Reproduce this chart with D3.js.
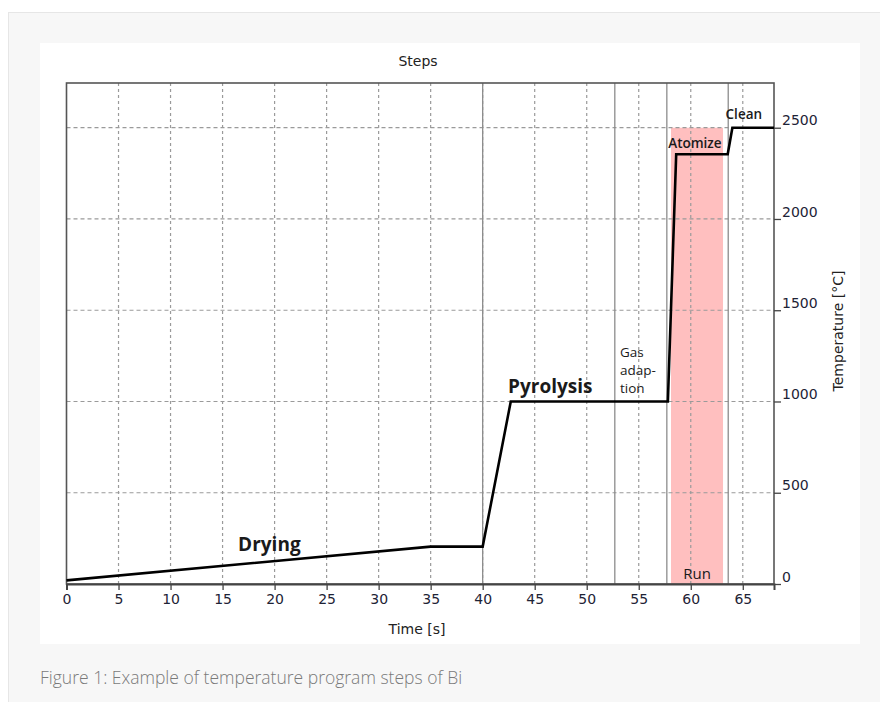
<!DOCTYPE html>
<meta charset="utf-8">
<style>
  body { margin: 0; background: #fff; }
</style>
<body>
<script src="https://cdn.jsdelivr.net/npm/d3@7"></script>
<script>
// temperature program (time in s, temperature in °C)
var times = [0, 35, 40, 42.7, 57.8, 58.6, 63.55, 64.0, 68];
var temps = [20, 205, 205, 1000, 1000, 2355, 2355, 2500, 2500];

// step boundaries and run window
var stepLines = [40, 52.7, 57.7, 63.6];
var runWindow = [58.1, 63.1];
var runTop = 2500;

var xTicks = [0, 5, 10, 15, 20, 25, 30, 35, 40, 45, 50, 55, 60, 65];
var yTicks = [0, 500, 1000, 1500, 2000, 2500];

// step labels
var labelNames = ["Drying", "Pyrolysis", "Atomize", "Clean", "Run"];
var labelTimes = [19.5, 46.5, 60.4, 65.1, 60.6];
var labelTemps = [180, 1045, 2390, 2550, 30];
var gasLines = ["Gas", "adap-", "tion"];

var W = 880, H = 702;
var svg = d3.select("body").append("svg")
    .attr("width", W)
    .attr("height", H);

// page background + white panel
svg.append("rect").attr("x", 0).attr("y", 0).attr("width", W).attr("height", H).attr("fill", "#fff");
svg.append("rect").attr("x", 8.5).attr("y", 12.5).attr("width", W).attr("height", H)
    .attr("fill", "#f7f7f7").attr("stroke", "#e6e6e6");
svg.append("rect").attr("x", 40).attr("y", 43).attr("width", 820).attr("height", 601).attr("fill", "#fff");

var pLeft = 66.5, pRight = 774, pTop = 83, pBottom = 584;

var x = d3.scaleLinear().domain([0, 68]).range([pLeft, pRight]);
var y = d3.scaleLinear().domain([0, 2745]).range([pBottom, pTop]);

// run window
svg.append("rect")
    .attr("x", x(runWindow[0]))
    .attr("y", y(runTop))
    .attr("width", x(runWindow[1]) - x(runWindow[0]))
    .attr("height", y(0) - y(runTop))
    .attr("fill", "#ffbfbf");

// dashed grid
svg.append("g").selectAll("line")
    .data(xTicks.filter(function(d) { return d > 0; }))
  .enter().append("line")
    .attr("x1", function(d) { return x(d); })
    .attr("x2", function(d) { return x(d); })
    .attr("y1", pTop).attr("y2", pBottom)
    .attr("stroke", "#9a9a9a").attr("stroke-width", 1.2)
    .attr("stroke-dasharray", "3,3");
svg.append("g").selectAll("line")
    .data(yTicks.filter(function(d) { return d > 0; }))
  .enter().append("line")
    .attr("x1", pLeft).attr("x2", pRight)
    .attr("y1", function(d) { return y(d); })
    .attr("y2", function(d) { return y(d); })
    .attr("stroke", "#9a9a9a").attr("stroke-width", 1.2)
    .attr("stroke-dasharray", "4,3");

// step separators
svg.append("g").selectAll("line")
    .data(stepLines)
  .enter().append("line")
    .attr("x1", function(d) { return x(d); })
    .attr("x2", function(d) { return x(d); })
    .attr("y1", pTop).attr("y2", pBottom)
    .attr("stroke", "#8c8c8c").attr("stroke-width", 1.3);

// plot frame
svg.append("rect")
    .attr("x", pLeft).attr("y", pTop)
    .attr("width", pRight - pLeft).attr("height", pBottom - pTop)
    .attr("fill", "none").attr("stroke", "#555").attr("stroke-width", 1.6);

// axes
var xAxis = svg.append("g")
    .attr("transform", "translate(0," + pBottom + ")")
    .call(d3.axisBottom(x).tickValues(xTicks).tickSize(6).tickPadding(4));
xAxis.select(".domain").attr("stroke", "#444").attr("stroke-width", 2);
xAxis.selectAll(".tick line").attr("stroke", "#444").attr("stroke-width", 1.3);

var yAxis = svg.append("g")
    .attr("transform", "translate(" + pRight + ",0)")
    .call(d3.axisRight(y).tickValues(yTicks).tickFormat(d3.format("d")).tickSize(7).tickPadding(1));
yAxis.select(".domain").remove();
yAxis.selectAll(".tick line").attr("stroke", "#444").attr("stroke-width", 1.3);
yAxis.selectAll(".tick text").attr("dy", "-0.2em");

svg.selectAll(".tick text")
    .attr("font-family", "'DejaVu Sans', sans-serif")
    .attr("font-size", "14px")
    .attr("fill", "#1e2336");

// temperature curve
var line = d3.line()
    .x(function(d) { return x(d[0]); })
    .y(function(d) { return y(d[1]); });
svg.append("path")
    .datum(d3.zip(times, temps))
    .attr("d", line)
    .attr("fill", "none")
    .attr("stroke", "#000")
    .attr("stroke-width", 2.6)
    .attr("stroke-linejoin", "miter");

// step labels
var labelSizes = [19, 19, 13.5, 13.5, 15];
var labelWeights = [700, 700, 600, 600, 400];
svg.append("g").selectAll("text")
    .data(labelNames)
  .enter().append("text")
    .attr("x", function(d, i) { return x(labelTimes[i]); })
    .attr("y", function(d, i) { return y(labelTemps[i]); })
    .attr("text-anchor", "middle")
    .attr("font-family", "'Open Sans', sans-serif")
    .attr("font-size", function(d, i) { return labelSizes[i] + "px"; })
    .attr("font-weight", function(d, i) { return labelWeights[i]; })
    .attr("fill", "#1a1a1a")
    .text(function(d) { return d; });

// "Gas adap-tion", one text per line
svg.append("g").selectAll("text")
    .data(gasLines)
  .enter().append("text")
    .attr("x", x(53.2))
    .attr("y", function(d, i) { return 357 + i * 18; })
    .attr("font-family", "'Open Sans', sans-serif")
    .attr("font-size", "13.5px")
    .attr("fill", "#1a1a1a")
    .text(function(d) { return d; });

// titles
svg.append("text")
    .attr("x", 418).attr("y", 66)
    .attr("text-anchor", "middle")
    .attr("font-family", "'DejaVu Sans', sans-serif")
    .attr("font-size", "14px").attr("fill", "#222")
    .text("Steps");
svg.append("text")
    .attr("x", 417).attr("y", 634)
    .attr("text-anchor", "middle")
    .attr("font-family", "'DejaVu Sans', sans-serif")
    .attr("font-size", "14px").attr("fill", "#222")
    .text("Time [s]");
svg.append("text")
    .attr("transform", "translate(843,331) rotate(-90)")
    .attr("text-anchor", "middle")
    .attr("font-family", "'DejaVu Sans', sans-serif")
    .attr("font-size", "14px").attr("fill", "#222")
    .text("Temperature [°C]");

// caption
svg.append("text")
    .attr("x", 40).attr("y", 684)
    .attr("font-family", "'Open Sans', sans-serif")
    .attr("font-weight", 300)
    .attr("font-size", "17.5px").attr("fill", "#7a7a7a")
    .text("Figure 1: Example of temperature program steps of Bi");
</script>
</body>
